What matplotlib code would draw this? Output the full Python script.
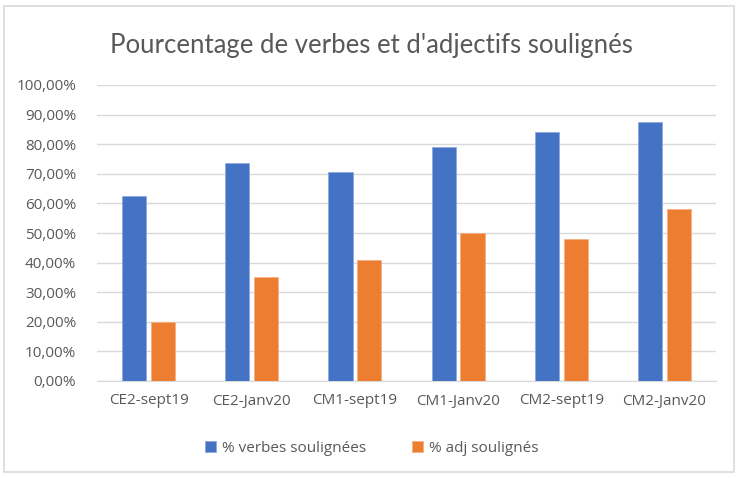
import numpy as np
import matplotlib
matplotlib.use("Agg")
import matplotlib.pyplot as plt
from matplotlib.patches import Rectangle
from matplotlib.ticker import FuncFormatter

# data
categories = ['CE2-sept19', 'CE2-Janv20', 'CM1-sept19', 'CM1-Janv20', 'CM2-sept19', 'CM2-Janv20']
verbes = [62.5, 73.5, 70.7, 79.0, 84.0, 87.4]
adj = [20.0, 35.0, 40.9, 50.0, 48.1, 58.1]

blue = '#4472C4'
orange = '#ED7D31'
grey = '#595959'

plt.rcParams['font.family'] = ['Open Sans', 'DejaVu Sans']

fig = plt.figure(figsize=(7.38, 4.78), dpi=100)
ax = fig.add_axes([97/738, 1-381/478, (716-97)/738, (381-85)/478])

x = np.arange(len(categories))
w = 0.235
ax.bar(x - 0.14, verbes, w, color=blue, edgecolor='#8faadc', linewidth=0.6,
       label='% verbes soulignées', zorder=3)
ax.bar(x + 0.14, adj, w, color=orange, edgecolor='#f4b183', linewidth=0.6,
       label='% adj soulignés', zorder=3)

ax.set_xlim(-0.5, len(categories) - 0.5)
ax.set_ylim(0, 100)
ax.set_yticks(np.arange(0, 101, 10))
ax.yaxis.set_major_formatter(FuncFormatter(lambda v, p: '%d,00%%' % v))
ax.set_xticks(x)
ax.set_xticklabels(categories)
ax.tick_params(axis='both', length=0, labelsize=11, colors=grey)
ax.tick_params(axis='y', pad=15)
ax.tick_params(axis='x', pad=9)
ax.grid(axis='y', color='#d9d9d9', linewidth=1, zorder=0)
for s in ['top', 'right', 'left']:
    ax.spines[s].set_visible(False)
ax.spines['bottom'].set_color('#d9d9d9')

fig.text(371/738, 1-45/478, "Pourcentage de verbes et d'adjectifs soulignés",
         ha='center', va='center', fontsize=18.5, color=grey, family=['Lato', 'DejaVu Sans'])

fig.legend(loc='center', bbox_to_anchor=(372/738, 1-448/478), ncol=2, frameon=False,
           fontsize=11, labelcolor=grey, handlelength=0.7, handleheight=0.7,
           handletextpad=0.4, columnspacing=3)

fig.patches.append(Rectangle((4/738, 6/478), 730/738, 466/478, transform=fig.transFigure,
                             fill=False, edgecolor='#d9d9d9', linewidth=1.2))

fig.savefig('out.png', dpi=100)
